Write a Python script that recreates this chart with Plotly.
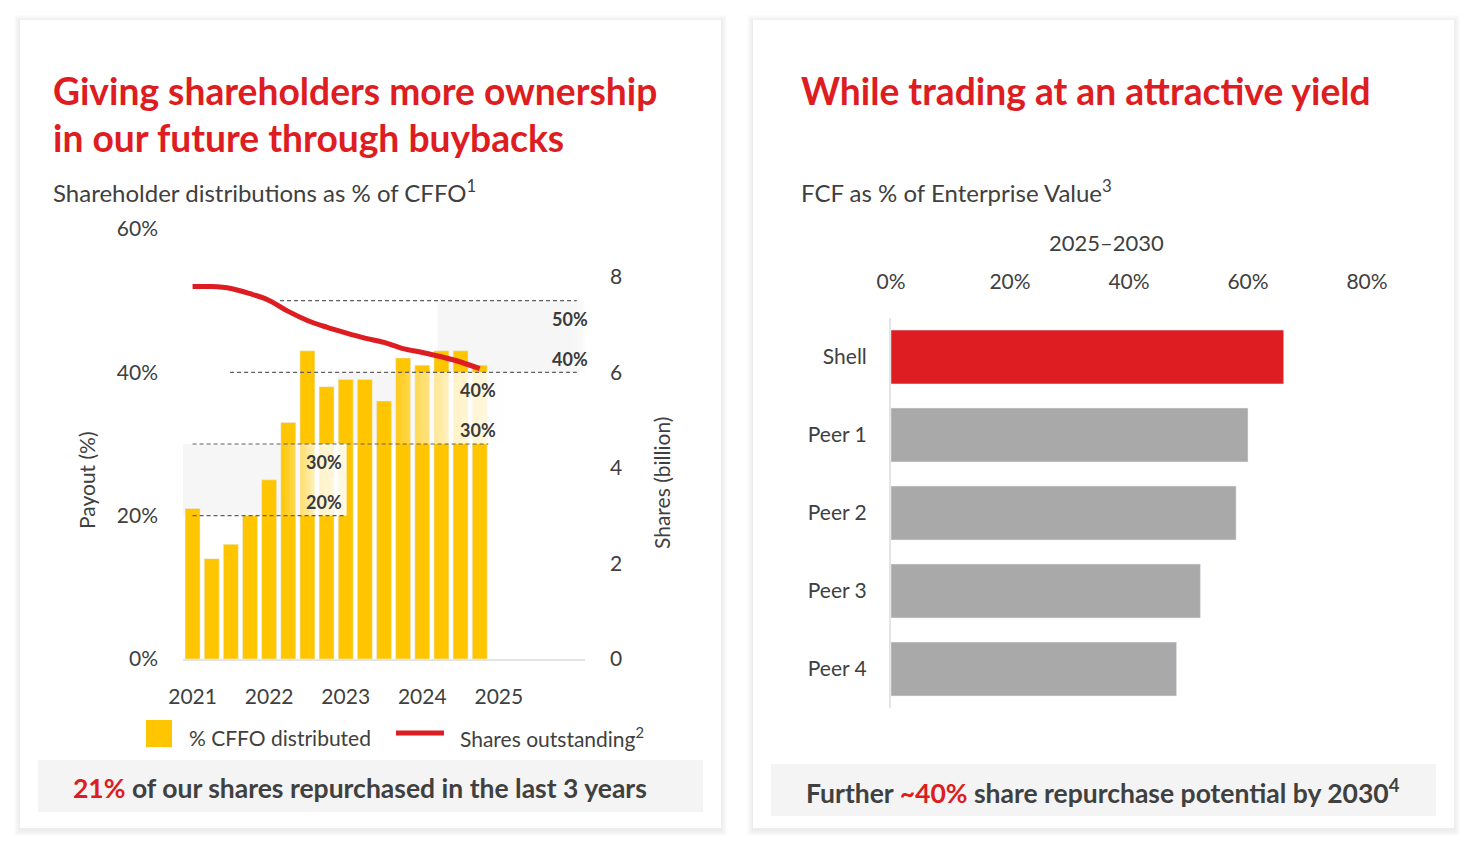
import plotly.graph_objects as go

# the page body keeps an 8px margin, so the figure is drawn 16px smaller
OFF = 8
W, H = 1472 - 2 * OFF, 846 - 2 * OFF
FONT = "Lato"
RED = "#DD1D21"
YELLOW = "#FFC600"
GREY_BAR = "#A9A9A9"
TXT = "#404040"

# ---- left panel data: shareholder distributions as % of CFFO, by quarter
quarters = ["2021 Q1", "2021 Q2", "2021 Q3", "2021 Q4",
            "2022 Q1", "2022 Q2", "2022 Q3", "2022 Q4",
            "2023 Q1", "2023 Q2", "2023 Q3", "2023 Q4",
            "2024 Q1", "2024 Q2", "2024 Q3", "2024 Q4"]
payout_pct = [21, 14, 16, 20, 25, 33, 43, 38, 39, 39, 36, 42, 41, 43, 43, 41]
shares_bn = [7.80, 7.80, 7.76, 7.65, 7.51, 7.28, 7.09, 6.95,
             6.83, 6.72, 6.63, 6.50, 6.42, 6.33, 6.22, 6.08]
year_labels = ["2021", "2022", "2023", "2024", "2025"]
payout_ticks = [0, 20, 40, 60]
share_ticks = [0, 2, 4, 6, 8]
# payout guidance bands (low, high) in %
bands = [(20, 30), (30, 40), (40, 50)]

# ---- right panel data: FCF as % of enterprise value 2025-2030
companies = ["Shell", "Peer 1", "Peer 2", "Peer 3", "Peer 4"]
fcf_ev_pct = [66, 60, 58, 52, 48]
fcf_ticks = [0, 20, 40, 60, 80]


def fx(px):
    # page pixel -> paper fraction
    return (px - OFF) / W


def fy(py):
    return 1 - (py - OFF) / H


xpos = list(range(len(quarters)))

fig = go.Figure()

fig.add_trace(go.Bar(x=xpos, y=payout_pct, width=0.78, marker_color=YELLOW,
                     hovertext=quarters, name="% CFFO distributed",
                     xaxis="x", yaxis="y"))

# white fades over the bars next to the band labels
fades = [(4.6, 8.05, bands[0]), (10.2, 16.2, bands[1])]
for x0, x1, (lo, hi) in fades:
    fig.add_trace(go.Scatter(
        x=[x0, x1, x1, x0, x0], y=[lo, lo, hi, hi, lo], mode="lines",
        line=dict(width=0), fill="toself", hoverinfo="skip",
        fillgradient=dict(type="horizontal",
                          colorscale=[[0, "rgba(255,255,255,0)"],
                                      [0.55, "rgba(255,255,255,0.78)"],
                                      [1, "rgba(255,255,255,0.9)"]]),
        xaxis="x", yaxis="y", showlegend=False))

fig.add_trace(go.Scatter(x=xpos, y=shares_bn, mode="lines",
                         line=dict(color=RED, width=5, shape="spline"),
                         name="Shares outstanding", xaxis="x", yaxis="y2"))

colors = [RED] + [GREY_BAR] * (len(companies) - 1)
fig.add_trace(go.Bar(x=fcf_ev_pct, y=companies, orientation="h", width=0.69,
                     marker_color=colors, xaxis="x2", yaxis="y3",
                     name="FCF / EV"))

shapes = []
# cards with soft shadow
for cx0, cx1 in [(20, 721), (753, 1454)]:
    for k in range(6, 0, -1):
        shapes.append(dict(type="rect", xref="paper", yref="paper", layer="below",
                           x0=fx(cx0 - k), x1=fx(cx1 + k), y0=fy(828 + k + 2), y1=fy(20 - k + 1),
                           fillcolor="rgba(0,0,0,0.012)", line_width=0))
    shapes.append(dict(type="rect", xref="paper", yref="paper", layer="below",
                       x0=fx(cx0), x1=fx(cx1), y0=fy(828), y1=fy(20),
                       fillcolor="white", line_width=0))
# bottom banners
shapes.append(dict(type="rect", xref="paper", yref="paper", layer="below",
                   x0=fx(38), x1=fx(703), y0=fy(812), y1=fy(760),
                   fillcolor="#F4F4F4", line_width=0))
shapes.append(dict(type="rect", xref="paper", yref="paper", layer="below",
                   x0=fx(771), x1=fx(1436), y0=fy(816), y1=fy(764),
                   fillcolor="#F4F4F4", line_width=0))

# grey guidance bands behind bars
BAND = "#F6F6F6"
shapes.append(dict(type="rect", xref="x", yref="y", layer="below",
                   x0=-0.5, x1=8.05, y0=bands[0][0], y1=bands[0][1],
                   fillcolor=BAND, line_width=0))
shapes.append(dict(type="rect", xref="x", yref="y", layer="below",
                   x0=7.6, x1=16.2, y0=bands[1][0], y1=bands[1][1],
                   fillcolor=BAND, line_width=0))
shapes.append(dict(type="rect", xref="x", yref="y", layer="below",
                   x0=12.8, x1=19.8, y0=bands[2][0], y1=bands[2][1],
                   fillcolor=BAND, line_width=0))
for i, a in enumerate([0.8, 0.55, 0.3]):
    shapes.append(dict(type="rect", xref="x", yref="y", layer="below",
                       x0=19.8 + i * 0.3, x1=20.1 + i * 0.3,
                       y0=bands[2][0], y1=bands[2][1],
                       fillcolor=f"rgba(236,236,236,{a * 0.55})", line_width=0))

# dashed guidance lines
dash_spans = [(20, 0, 8.05), (30, 0, 15.45), (40, 1.96, 20.07), (50, 4.57, 20.07)]
for lvl, x0, x1 in dash_spans:
    shapes.append(dict(type="line", xref="x", yref="y", layer="above",
                       x0=x0, x1=x1, y0=lvl, y1=lvl,
                       line=dict(color="#606060", width=1.2, dash="4px,3px")))

# manual legend
shapes.append(dict(type="rect", xref="paper", yref="paper",
                   x0=fx(146), x1=fx(172), y0=fy(747), y1=fy(720),
                   fillcolor=YELLOW, line_width=0))
shapes.append(dict(type="line", xref="paper", yref="paper",
                   x0=fx(396), x1=fx(444), y0=fy(733), y1=fy(733),
                   line=dict(color=RED, width=5)))

ann = []


def text(x, y, s, size, color=TXT, xanchor="left", weight=400, **kw):
    ann.append(dict(x=fx(x), y=fy(y), xref="paper", yref="paper", text=s,
                    showarrow=False, xanchor=xanchor, yanchor="middle",
                    font=dict(family=FONT, size=size, color=color, weight=weight), **kw))


text(51, 91, "Giving shareholders more ownership", 37.2, RED, weight=700)
text(51, 138, "in our future through buybacks", 37.2, RED, weight=700)
text(51, 191, "Shareholder distributions as % of CFFO<sup>1</sup>", 24)
text(799, 91, "While trading at an attractive yield", 37.2, RED, weight=700)
text(799, 191, "FCF as % of Enterprise Value<sup>3</sup>", 24)
text(1106, 242, "2025–2030", 22, xanchor="center")
text(86, 480, "Payout (%)", 21, xanchor="center", textangle=-90)
text(661, 483, "Shares (billion)", 21, xanchor="center", textangle=-90)
text(187, 737, "% CFFO distributed", 21)
text(458, 737, "Shares outstanding<sup>2</sup>", 21)
text(360, 788, f"<span style='color:{RED}'>21%</span> of our shares repurchased in the last 3 years",
     26.5, xanchor="center", weight=700)
text(1103, 791, f"Further <span style='color:{RED}'>~40%</span> share repurchase potential by 2030<sup>4</sup>",
     26.5, xanchor="center", weight=700)

# band labels (data coordinates)
label_x = [6.86, 14.9, 19.7]
for (lo, hi), lx in zip(bands, label_x):
    for val, yy in [(hi, hi - 2.5), (lo, lo + 1.9)]:
        ann.append(dict(x=lx, y=yy, xref="x", yref="y", text=f"{val}%",
                        showarrow=False, xanchor="center", yanchor="middle",
                        font=dict(family=FONT, size=18, color="#3A3A3A", weight=700)))

tickfont = dict(family=FONT, size=21, color=TXT)

fig.update_layout(
    width=W, height=H, margin=dict(l=0, r=0, t=0, b=0, autoexpand=False),
    paper_bgcolor="white", plot_bgcolor="rgba(0,0,0,0)",
    showlegend=False, shapes=shapes, annotations=ann,
    xaxis=dict(domain=[fx(183), fx(585)], range=[-0.5, 20.5],
               tickvals=[0, 4, 8, 12, 16], ticktext=year_labels,
               showgrid=False, zeroline=False, showline=True,
               linecolor="#E4E4E4", linewidth=2, ticks="",
               tickfont=tickfont, ticklabelstandoff=18, anchor="y"),
    yaxis=dict(domain=[fy(659), fy(229)], range=[0, 60],
               tickvals=payout_ticks, ticktext=[f"{v}%" for v in payout_ticks],
               showgrid=False, zeroline=False, ticks="",
               tickfont=tickfont, ticklabelstandoff=24, anchor="x"),
    yaxis2=dict(overlaying="y", side="right", anchor="x",
                range=[0, 8 * 430 / 382], tickvals=share_ticks,
                showgrid=False, zeroline=False, ticks="",
                tickfont=tickfont, ticklabelstandoff=24),
    xaxis2=dict(domain=[fx(891), fx(1367)], range=[0, 80], side="top",
                tickvals=fcf_ticks, ticktext=[f"{v}%" for v in fcf_ticks],
                showgrid=False, zeroline=False, ticks="",
                tickfont=tickfont, ticklabelstandoff=24, anchor="y3"),
    yaxis3=dict(domain=[fy(708), fy(318)], autorange="reversed",
                showgrid=False, zeroline=False, showline=True,
                linecolor="#E4E4E4", linewidth=2, ticks="",
                tickfont=tickfont, ticklabelstandoff=18, anchor="x2"),
)

fig.write_html("out.html", config={"displayModeBar": False})
